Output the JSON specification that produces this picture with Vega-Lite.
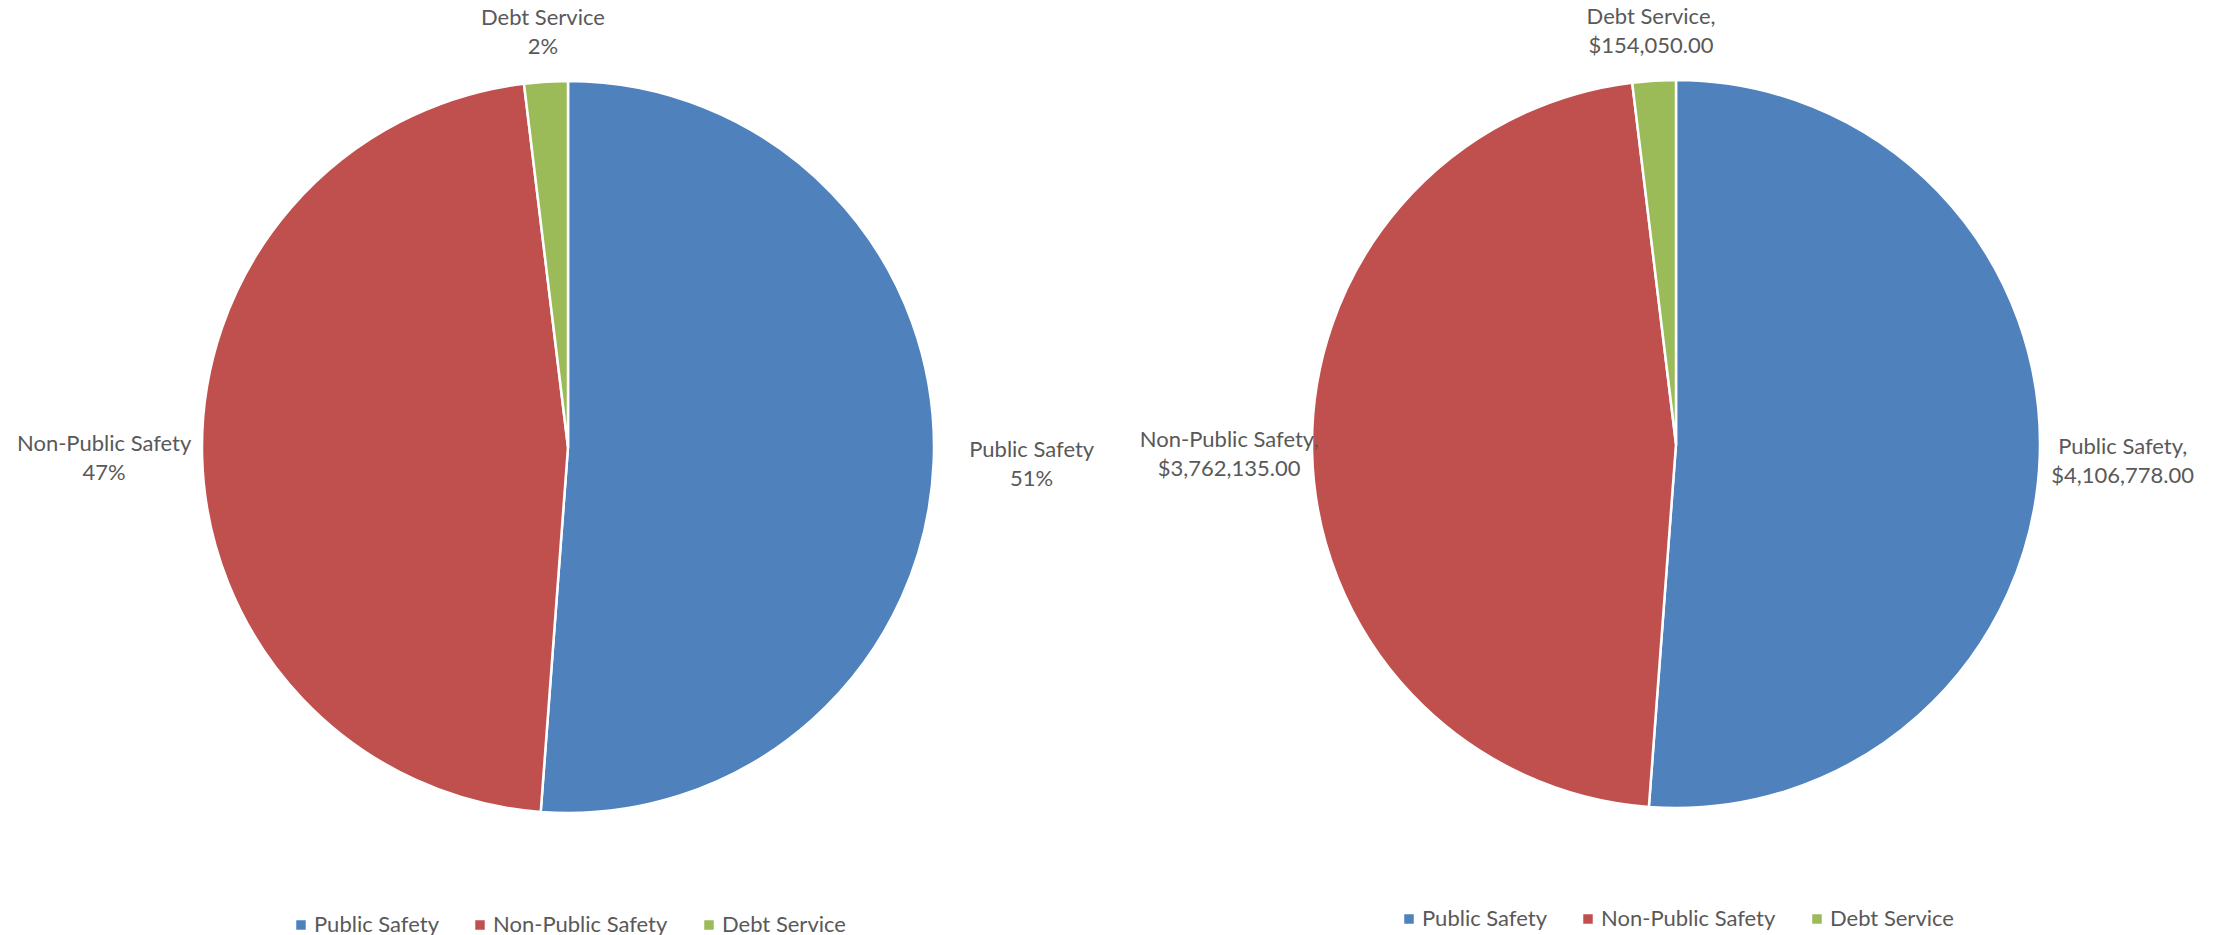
{
  "$schema": "https://vega.github.io/schema/vega-lite/v6.json",
  "padding": 0,
  "spacing": 0,
  "bounds": "flush",
  "background": "white",
  "datasets": {
    "budget": [
      {"category": "Public Safety", "value": 4106778, "idx": 1, "pctLabel": "Public Safety\n51%", "valueLabel": "Public Safety,\n$4,106,778.00"},
      {"category": "Non-Public Safety", "value": 3762135, "idx": 2, "pctLabel": "Non-Public Safety\n47%", "valueLabel": "Non-Public Safety,\n$3,762,135.00"},
      {"category": "Debt Service", "value": 154050, "idx": 3, "pctLabel": "Debt Service\n2%", "valueLabel": "Debt Service,\n$154,050.00"}
    ]
  },
  "hconcat": [
    {
      "width": 1136,
      "height": 894,
      "data": {"name": "budget"},
      "encoding": {
        "theta": {"field": "value", "type": "quantitative", "stack": true},
        "order": {"field": "idx", "type": "quantitative"}
      },
      "layer": [
        {
          "mark": {"type": "arc", "outerRadius": 366, "stroke": "white", "strokeWidth": 2.5},
          "encoding": {
            "color": {
              "field": "category", "type": "nominal",
              "scale": {"domain": ["Public Safety", "Non-Public Safety", "Debt Service"], "range": ["#4F81BD", "#C0504D", "#9BBB59"]},
              "legend": {"title": null}
            }
          }
        },
        {
          "mark": {"type": "text", "font": "Lato", "fontSize": 22, "color": "#595959", "lineBreak": "\n", "lineHeight": 29, "align": "center", "baseline": "middle", "dy": -14},
          "encoding": {
            "detail": {"field": "category", "type": "nominal"},
            "radius": {"field": "value", "type": "quantitative", "scale": {"type": "linear", "zero": false, "clamp": true, "domain": [154050, 3762135], "range": [416, 464]}},
            "text": {"field": "pctLabel", "type": "nominal"}
          }
        }
      ]
    },
    {
      "width": 1080,
      "height": 888,
      "data": {"name": "budget"},
      "encoding": {
        "theta": {"field": "value", "type": "quantitative", "stack": true},
        "order": {"field": "idx", "type": "quantitative"}
      },
      "layer": [
        {
          "mark": {"type": "arc", "outerRadius": 364, "stroke": "white", "strokeWidth": 2.5},
          "encoding": {
            "color": {
              "field": "category", "type": "nominal",
              "scale": {"domain": ["Public Safety", "Non-Public Safety", "Debt Service"], "range": ["#4F81BD", "#C0504D", "#9BBB59"]},
              "legend": {"title": null}
            }
          }
        },
        {
          "mark": {"type": "text", "font": "Lato", "fontSize": 22, "color": "#595959", "lineBreak": "\n", "lineHeight": 29, "align": "center", "baseline": "middle", "dy": -14},
          "encoding": {
            "detail": {"field": "category", "type": "nominal"},
            "radius": {"field": "value", "type": "quantitative", "scale": {"type": "linear", "zero": false, "clamp": true, "domain": [154050, 3762135], "range": [414, 447]}},
            "text": {"field": "valueLabel", "type": "nominal"}
          }
        }
      ]
    }
  ],
  "resolve": {"scale": {"color": "independent", "radius": "independent"}, "legend": {"color": "independent"}},
  "config": {
    "view": {"stroke": null},
    "legend": {
      "orient": "bottom",
      "direction": "horizontal",
      "layout": {"bottom": {"anchor": "middle"}},
      "offset": 20,
      "symbolType": "square",
      "symbolSize": 90,
      "symbolStrokeWidth": 0,
      "symbolOpacity": 1,
      "labelFont": "Lato",
      "labelFontSize": 22,
      "labelColor": "#595959",
      "labelOffset": 2,
      "columnPadding": 30,
      "labelLimit": 400
    }
  }
}
